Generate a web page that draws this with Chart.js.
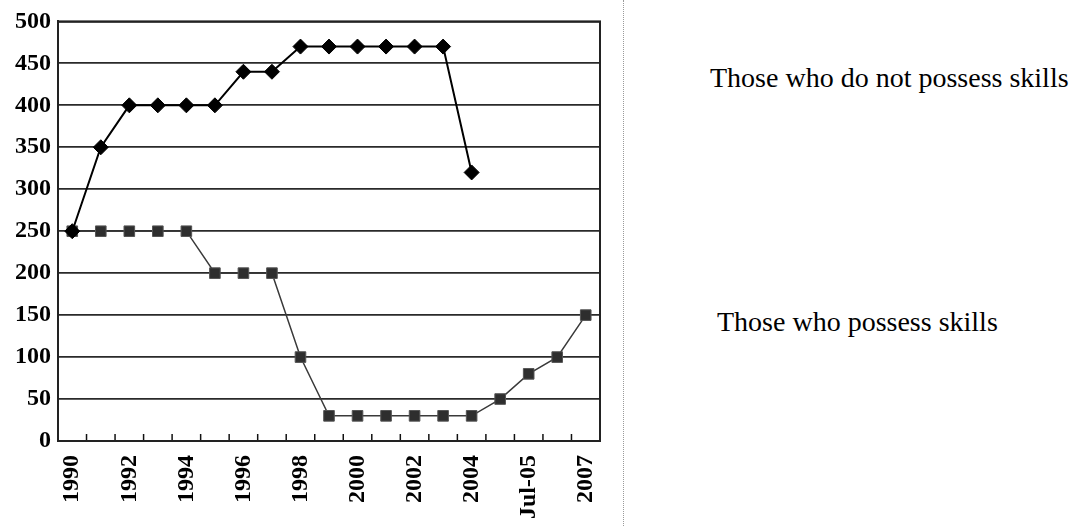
<!DOCTYPE html>
<html>
<head>
<meta charset="utf-8">
<script src="https://cdn.jsdelivr.net/npm/chart.js@4.4.1/dist/chart.umd.min.js"></script>
<style>
  html, body { margin: 0; padding: 0; background: #fff; }
  #page { position: relative; width: 1071px; height: 526px; overflow: hidden; }
  #chart-box { position: absolute; left: 0; top: 0; width: 612px; height: 526px; }
  #divider { position: absolute; left: 623px; top: 0; height: 526px; border-left: 1px dotted #9a9a9a; }
  .note { position: absolute; font-family: 'Liberation Serif', 'Times New Roman', serif; font-size: 28px; line-height: 32px; color: #000; white-space: nowrap; }
</style>
</head>
<body>
<div id="page">
  <div id="chart-box"><canvas id="skills-chart"></canvas></div>
  <div id="divider"></div>
  <div class="note" style="left:710px; top:62px;">Those who do not possess skills</div>
  <div class="note" style="left:717px; top:306px;">Those who possess skills</div>
</div>
<script>
// categories along the bottom (every other one gets a label)
const periods = ['1990', '1991', '1992', '1993', '1994', '1995', '1996', '1997', '1998', '1999',
                 '2000', '2001', '2002', '2003', '2004', '2005', 'Jul-05', '2006', '2007'];

// series
const withoutSkills = [250, 350, 400, 400, 400, 400, 440, 440, 470, 470, 470, 470, 470, 470, 320,
                       null, null, null, null];
const withSkills = [250, 250, 250, 250, 250, 200, 200, 200, 100, 30, 30, 30, 30, 30, 30,
                    50, 80, 100, 150];

// value axis
const yMin = 0;
const yMax = 500;
const yStep = 50;

(function(){

    const _font = "'Liberation Serif', 'Times New Roman', serif";

    // little marks on the inside of the bottom axis, between categories
    const _innerTicks = {
        id: 'innerTicks',
        afterDraw(chart){
            let x = chart.scales.x;
            let area = chart.chartArea;
            let ctx = chart.ctx;
            ctx.save();
            ctx.strokeStyle = '#111';
            ctx.lineWidth = 1.5;
            for(let i = 1; i < periods.length; i++){
                let px = (x.getPixelForTick(i - 1) + x.getPixelForTick(i)) / 2;
                ctx.beginPath();
                ctx.moveTo(px, area.bottom);
                ctx.lineTo(px, area.bottom - 7);
                ctx.stroke();
            }
            // frame round the plot
            ctx.lineWidth = 2;
            ctx.strokeStyle = '#222';
            ctx.strokeRect(area.left, area.top, area.right - area.left, area.bottom - area.top);
            ctx.restore();
        }
    };

    function _drawChart(){
        new Chart(document.getElementById('skills-chart').getContext('2d'), {
            type: 'line',
            data: {
                labels: periods,
                datasets: [
                    {
                        label: 'Those who do not possess skills',
                        data: withoutSkills,
                        borderColor: '#000',
                        borderWidth: 2,
                        pointStyle: 'rectRot',
                        pointRadius: 7.5,
                        pointBackgroundColor: '#000',
                        pointBorderColor: '#000',
                        pointBorderWidth: 1,
                        tension: 0,
                        spanGaps: false
                    },
                    {
                        label: 'Those who possess skills',
                        data: withSkills,
                        borderColor: '#3a3a3a',
                        borderWidth: 1.5,
                        pointStyle: 'rect',
                        pointRadius: 7.5,
                        pointBackgroundColor: '#2e2e2e',
                        pointBorderColor: '#555',
                        pointBorderWidth: 1,
                        tension: 0
                    }
                ]
            },
            options: {
                responsive: true,
                maintainAspectRatio: false,
                animation: false,
                layout: { padding: { top: 21, right: 12, left: 0, bottom: 0 } },
                plugins: {
                    legend: { display: false },
                    tooltip: { enabled: false }
                },
                scales: {
                    x: {
                        offset: true,
                        grid: { display: false, drawTicks: false },
                        border: { display: true, color: '#222', width: 2 },
                        ticks: {
                            autoSkip: false,
                            minRotation: 90,
                            maxRotation: 90,
                            padding: 14,
                            color: '#000',
                            font: { family: _font, size: 24, weight: 'bold' },
                            callback: function(value, index){
                                return index % 2 === 0 ? periods[index] : '';
                            }
                        },
                        afterFit: function(scale){
                            scale.height = 85;
                            scale.paddingLeft = 0;
                            scale.paddingRight = 0;
                        }
                    },
                    y: {
                        min: yMin,
                        max: yMax,
                        grid: { color: '#2a2a2a', lineWidth: 1.8, drawTicks: false },
                        border: { display: true, color: '#222', width: 2 },
                        ticks: {
                            stepSize: yStep,
                            padding: 7,
                            color: '#000',
                            font: { family: _font, size: 24, weight: 'bold' }
                        },
                        afterFit: function(scale){
                            scale.width = 58;
                        }
                    }
                }
            },
            plugins: [_innerTicks]
        });
    }

    window.onload = function(){
        _drawChart();
    };

})();
</script>
</body>
</html>
